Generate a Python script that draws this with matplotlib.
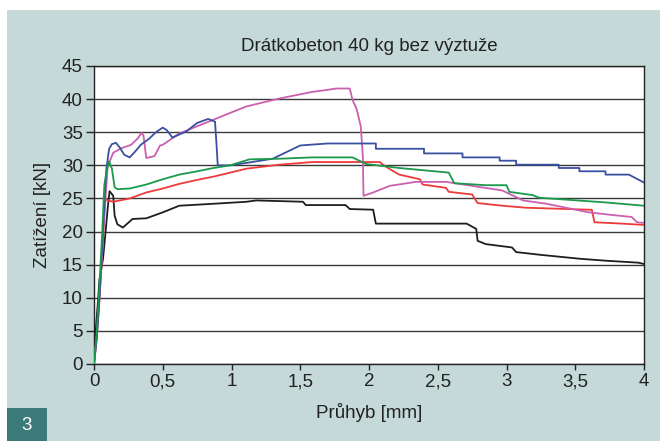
import matplotlib
matplotlib.use("Agg")
import matplotlib.pyplot as plt
from matplotlib.patches import Rectangle

plt.rcParams['font.family'] = ['Liberation Sans', 'DejaVu Sans']

# průhyb [mm] / zatížení [kN]
blue_x = [0, 0.02, 0.04, 0.06, 0.08, 0.09, 0.11, 0.13, 0.16, 0.19, 0.22, 0.26, 0.30, 0.34, 0.40,
          0.45, 0.50, 0.53, 0.57, 0.67, 0.75, 0.83, 0.88, 0.89, 0.90, 0.99, 1.15, 1.30, 1.40, 1.50,
          1.70, 2.05, 2.05, 2.40, 2.40, 2.68, 2.68, 2.95, 2.95, 3.07, 3.07, 3.38, 3.38, 3.53, 3.53,
          3.72, 3.72, 3.89, 4.0]
blue_y = [0, 4, 10, 18, 26, 29.5, 32.5, 33.2, 33.4, 32.6, 31.6, 31.2, 32.1, 33.1, 34.0,
          35.0, 35.7, 35.3, 34.2, 35.1, 36.4, 37.0, 36.6, 33.5, 30.0, 30.0, 30.5, 31.0, 32.0, 33.0,
          33.3, 33.3, 32.5, 32.5, 31.8, 31.8, 31.2, 31.2, 30.7, 30.7, 30.1, 30.1, 29.6, 29.6, 29.1,
          29.1, 28.6, 28.6, 27.4]

pink_x = [0, 0.02, 0.04, 0.06, 0.08, 0.10, 0.14, 0.20, 0.27, 0.32, 0.345, 0.36, 0.38, 0.44, 0.48,
          0.50, 0.62, 0.75, 0.87, 1.0, 1.11, 1.23, 1.35, 1.47, 1.59, 1.70, 1.76, 1.86, 1.88, 1.91,
          1.94, 1.955, 1.96, 2.03, 2.15, 2.34, 2.56, 2.75, 2.97, 3.12, 3.29, 3.48, 3.60, 3.77, 3.91,
          3.95, 4.0]
pink_y = [0, 4, 10, 17, 24, 29.9, 31.9, 32.6, 33.1, 34.1, 34.9, 34.5, 31.1, 31.4, 33.0,
          33.1, 34.8, 35.9, 36.9, 38.0, 38.9, 39.5, 40.1, 40.6, 41.1, 41.4, 41.6, 41.6, 39.9, 38.5,
          35.9, 31.4, 25.4, 25.9, 26.9, 27.5, 27.5, 26.9, 26.2, 24.7, 24.2, 23.4, 22.9, 22.5, 22.2,
          21.4, 21.3]

green_x = [0, 0.02, 0.04, 0.06, 0.075, 0.09, 0.11, 0.13, 0.15, 0.17, 0.26, 0.38, 0.50, 0.62, 0.75,
           0.87, 0.99, 1.13, 1.35, 1.59, 1.88, 1.92, 1.98, 2.22, 2.58, 2.62, 2.85, 3.0, 3.02, 3.19,
           3.24, 3.38, 3.72, 4.0]
green_y = [0, 5, 12, 20, 27, 29, 30.6, 29.5, 26.7, 26.4, 26.5, 27.1, 27.9, 28.6, 29.1,
           29.6, 30.0, 30.9, 31.0, 31.2, 31.2, 30.8, 30.2, 29.6, 28.9, 27.3, 27.0, 27.0, 26.0, 25.5,
           25.1, 24.9, 24.4, 23.9]

red_x = [0, 0.02, 0.04, 0.06, 0.075, 0.085, 0.10, 0.14, 0.26, 0.38, 0.50, 0.62, 0.75, 0.87, 0.99,
         1.11, 1.23, 1.35, 1.59, 1.90, 2.08, 2.10, 2.17, 2.22, 2.37, 2.39, 2.56, 2.58, 2.75, 2.79,
         2.97, 3.14, 3.60, 3.62, 3.64, 3.84, 4.0]
red_y = [0, 4, 10, 17, 23, 25, 24.7, 24.5, 25.0, 25.9, 26.5, 27.2, 27.8, 28.3, 28.9,
         29.5, 29.8, 30.1, 30.5, 30.5, 30.5, 30.1, 29.2, 28.6, 27.9, 27.1, 26.6, 26.0, 25.6, 24.3,
         23.9, 23.6, 23.3, 23.3, 21.4, 21.2, 21.0]

black_x = [0, 0.005, 0.017, 0.03, 0.04, 0.065, 0.08, 0.10, 0.113, 0.14, 0.15, 0.17, 0.21, 0.28,
           0.38, 0.50, 0.62, 0.87, 1.11, 1.18, 1.52, 1.54, 1.83, 1.86, 2.03, 2.05, 2.71, 2.78, 2.79,
           2.85, 3.04, 3.07, 3.24, 3.53, 3.72, 3.96, 4.0]
black_y = [1.0, 2.8, 6.3, 9.8, 12.8, 15.8, 19.0, 23.6, 26.1, 25.4, 22.4, 21.1, 20.6, 21.9,
           22.0, 22.9, 23.9, 24.2, 24.5, 24.7, 24.5, 24.0, 24.0, 23.4, 23.3, 21.2, 21.2, 20.4, 18.6,
           18.1, 17.6, 16.9, 16.5, 15.9, 15.6, 15.3, 15.1]

x_ticks = [0, 0.5, 1, 1.5, 2, 2.5, 3, 3.5, 4]
x_labels = ['0', '0,5', '1', '1,5', '2', '2,5', '3', '3,5', '4']
y_ticks = list(range(0, 46, 5))

bg = '#c5d9d8'
txt = '#222222'
fig = plt.figure(figsize=(6.6, 4.41), dpi=100)
fig.patch.set_facecolor('white')
fig.patches.append(Rectangle((7 / 660, 0), 653 / 660, 431 / 441, transform=fig.transFigure,
                             facecolor=bg, edgecolor='none', zorder=-10))
fig.patches.append(Rectangle((7 / 660, 0), 40 / 660, 33 / 441, transform=fig.transFigure,
                             facecolor='#3a7a78', edgecolor='none', zorder=-9))
fig.text(27 / 660, 16 / 441, '3', color='white', fontsize=13.5, ha='center', va='center')

ax = fig.add_axes([94 / 660, 77 / 441, 550 / 660, 298 / 441])
ax.set_facecolor('white')

lw = 1.3
ax.plot(black_x, black_y, color='#1e1e1e', lw=lw, zorder=3)
ax.plot(red_x, red_y, color='#ee3a3a', lw=lw, zorder=3)
ax.plot(green_x, green_y, color='#1a9a4a', lw=lw, zorder=4)
ax.plot(pink_x, pink_y, color='#cc5fb0', lw=lw, zorder=3)
ax.plot(blue_x, blue_y, color='#3a50a2', lw=lw, zorder=3)

ax.set_xlim(0, 4)
ax.set_ylim(0, 45)
ax.set_xticks(x_ticks)
ax.set_xticklabels(x_labels)
ax.set_yticks(y_ticks)
ax.yaxis.grid(True, color='#3a3a3a', lw=1.0)
ax.set_axisbelow(True)
for s in ax.spines.values():
    s.set_color(txt)
    s.set_linewidth(1.0)
ax.tick_params(axis='both', labelsize=13.5, width=1.0, color=txt, labelcolor=txt, pad=2)
ax.tick_params(axis='y', length=6)
ax.tick_params(axis='x', length=4.5)

ax.set_title('Drátkobeton 40 kg bez výztuže', fontsize=13.5, color=txt, pad=11)
ax.set_xlabel('Průhyb [mm]', fontsize=13.5, color=txt, labelpad=9)
ax.set_ylabel('Zatížení [kN]', fontsize=13.5, color=txt, labelpad=8)

fig.savefig('out.png', dpi=100, facecolor=fig.get_facecolor())
